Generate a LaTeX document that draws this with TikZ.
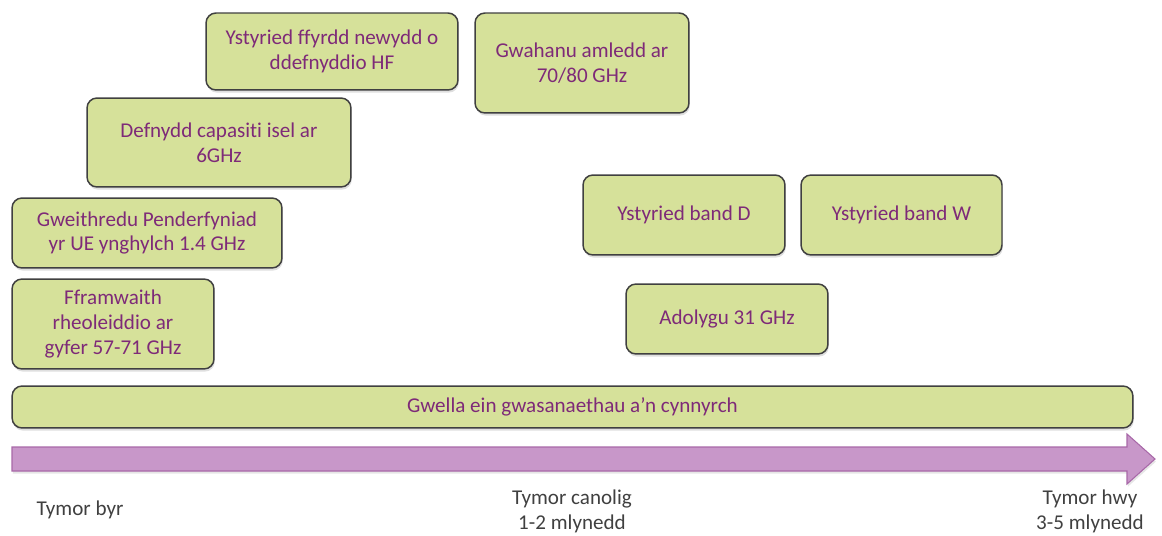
\documentclass[tikz,border=0pt]{standalone}
\usepackage{fontspec}
\setmainfont[Ligatures={NoCommon}]{Carlito}
\usetikzlibrary{shadows}
\definecolor{boxfill}{HTML}{D6E19A}
\definecolor{boxtext}{HTML}{7E2A78}
\definecolor{arrowfill}{HTML}{C897C9}
\definecolor{arrowline}{HTML}{A868A8}
\definecolor{termtext}{HTML}{404040}

\begin{document}
\begin{tikzpicture}[x=0.02cm,y=-0.02cm,
    plan/.style={draw=black!75, fill=boxfill, rounded corners=0.2cm, line width=0.85pt,
      text=boxtext, align=center, inner sep=0pt, font=\fontsize{12}{14.2}\selectfont,
      drop shadow={shadow xshift=0.5pt, shadow yshift=-1.5pt, opacity=0.25}},
    term/.style={text=termtext, align=center, font=\fontsize{12}{14.2}\selectfont}]
    \useasboundingbox (0,0) rectangle (1162,536);

    % timeline
    \draw[fill=arrowfill, draw=arrowline, line width=0.6pt,
      drop shadow={shadow xshift=0.5pt, shadow yshift=-1.5pt, opacity=0.2}]
    (12,447) -- (1127,447) -- (1127,434) -- (1155,459) -- (1127,484) -- (1127,471) -- (12,471) -- cycle;

    \node (hf) at (332,51.5) [plan, minimum width=5.04cm, minimum height=1.54cm] {Ystyried ffyrdd newydd o\\ddefnyddio HF};
    \node (split) at (582,63) [plan, minimum width=4.28cm, minimum height=2.0cm] {Gwahanu amledd ar\\70/80 GHz};
    \node (low) at (219,142.5) [plan, minimum width=5.28cm, minimum height=1.78cm] {Defnydd capasiti isel ar\\6GHz};
    \node (eu) at (147,233) [plan, minimum width=5.4cm, minimum height=1.4cm] {Gweithredu Penderfyniad\\yr UE ynghylch 1.4 GHz};
    \node (frame) at (113,324) [plan, minimum width=4.04cm, minimum height=1.8cm] {Fframwaith\\rheoleiddio ar\\gyfer 57-71 GHz};
    \node (bandD) at (684,215) [plan, minimum width=4.04cm, minimum height=1.6cm] {Ystyried band D};
    \node (bandW) at (901.5,215) [plan, minimum width=4.02cm, minimum height=1.6cm] {Ystyried band W};
    \node (review) at (727,319) [plan, minimum width=4.04cm, minimum height=1.4cm] {Adolygu 31 GHz};
    \node (improve) at (572.5,407) [plan, minimum width=22.42cm, minimum height=0.84cm] {Gwella ein gwasanaethau a’n cynnyrch};

    \node (short) at (80,510) [term] {Tymor byr};
    \node (medium) at (572,511) [term] {Tymor canolig\\1-2 mlynedd};
    \node (long) at (1090,511) [term] {Tymor hwy\\3-5 mlynedd};
\end{tikzpicture}
\end{document}
